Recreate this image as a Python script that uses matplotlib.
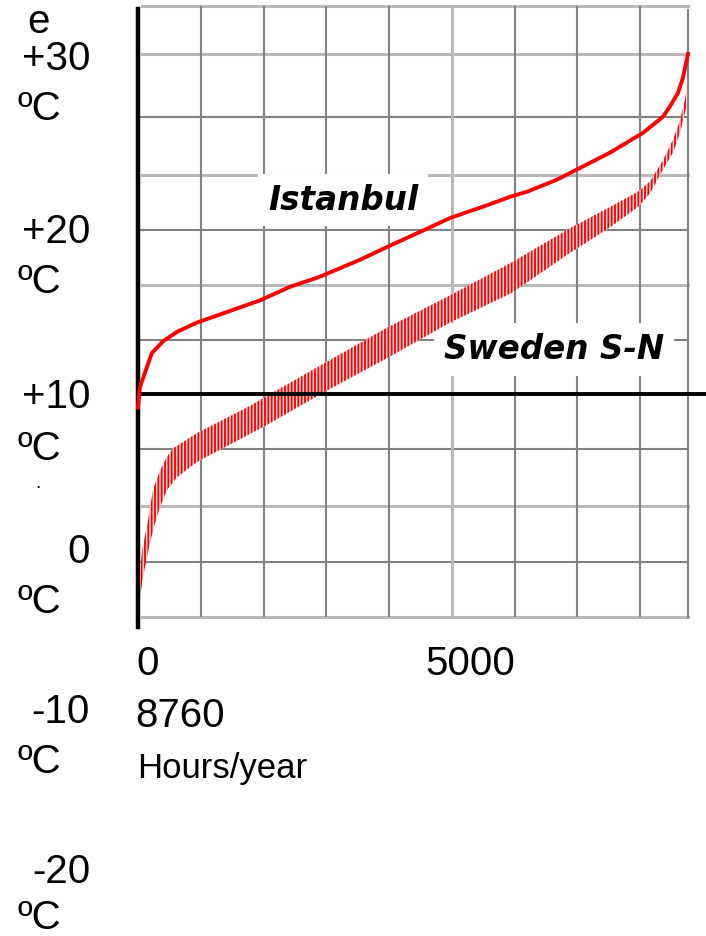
import numpy as np
import matplotlib
matplotlib.use("Agg")
import matplotlib.pyplot as plt

# Istanbul duration curve (hours/year, deg C)
ist_hours = [0, 30, 220, 400, 620, 940, 1940, 2420, 2900, 3540, 3970, 4650,
             4970, 5560, 5930, 6200, 6670, 6990, 7520, 8040, 8360, 8470, 8600, 8680, 8760]
ist_temp = [9.2, 10.4, 12.4, 13.1, 13.65, 14.2, 15.5, 16.3, 16.9, 17.9, 18.65, 19.8,
            20.35, 21.1, 21.6, 21.9, 22.6, 23.2, 24.2, 25.35, 26.3, 26.9, 27.7, 28.6, 30.0]

# Sweden S-N band: upper (south) and lower (north) edges
swe_up_hours = [0, 64, 143, 239, 350, 462, 557, 940, 1258, 1784, 1991, 3058,
                3966, 4969, 5957, 6881, 7518, 7964, 8155, 8362, 8521, 8633, 8712, 8760]
swe_up_temp = [-2.1, 0.8, 2.2, 4.35, 5.5, 6.3, 6.8, 7.7, 8.3, 9.3, 9.75, 12.0,
               13.9, 15.8, 17.75, 19.75, 21.0, 21.9, 22.5, 23.75, 24.95, 26.1, 27.3, 28.5]
swe_lo_hours = [0, 80, 191, 271, 350, 462, 621, 940, 1258, 1784, 1991, 3058,
                3966, 4969, 5957, 6881, 7518, 7964, 8155, 8362, 8521, 8633, 8712, 8760]
swe_lo_temp = [-2.8, -0.75, 1.25, 2.4, 3.35, 4.35, 5.1, 6.0, 6.62, 7.65, 8.05, 10.3,
               12.1, 14.2, 15.95, 18.3, 19.8, 21.0, 21.8, 23.2, 24.2, 25.35, 26.55, 27.3]

# left-hand temperature labels and bottom hour labels
temp_labels = ["+30", "+20", "+10", "0", "-10", "-20"]
hour_labels = ["0", "5000", "8760"]

W, H = 706, 936
plt.rcParams['hatch.linewidth'] = 1.35
fig = plt.figure(figsize=(W / 100, H / 100), dpi=100)


def fp(x, y):
    return x / W, 1 - y / H


# axes box in pixels: x 138..688, y 6..617
ax = fig.add_axes([138 / W, 1 - 617 / H, 550 / W, 611 / H])
ax.set_xlim(0, 8760)
ax.set_ylim(-3.12, 32.82)
ax.axis('off')

light = dict(color='#b9b9b9', lw=2.2, zorder=1)
dark = dict(color='#828282', lw=1.5, zorder=1)

# horizontal grid
for lev in [32.82, 30.0, 22.9, 16.4, 3.4, -3.12]:
    ax.axhline(lev, xmin=0.008, xmax=1.0, clip_on=False, **light)
for lev in [26.3, 19.65, 13.2, 6.75, 0.1]:
    ax.axhline(lev, **dark)
# vertical grid
for h in range(1000, 9000, 1000):
    ax.axvline(h, **(light if h == 5000 else dark))
ax.plot([8760, 8760], [-3.12, 32.6], clip_on=False, **dark)

# Sweden band, vertical hatching (drawn above the label boxes)
bx = np.concatenate([swe_up_hours, swe_lo_hours[::-1]])
by = np.concatenate([swe_up_temp, swe_lo_temp[::-1]])
ax.fill(bx, by, facecolor='#ffe4e4', edgecolor='red', hatch='|||||',
        linewidth=0, zorder=6)

# black axes
ax.plot([0, 0], [-3.7, 32.65], color='black', lw=3.2, clip_on=False, zorder=7)
ax.plot([0, 9050], [10, 10], color='black', lw=2.8, clip_on=False, zorder=7)

# Istanbul
ax.plot(ist_hours, ist_temp, color='red', lw=2.8, zorder=8, clip_on=False)

lab_font = dict(family='DejaVu Sans', fontweight='bold', fontstyle='italic',
                fontsize=23.5, color='black')
ax.text(3265, 21.4, "Istanbul", ha='center', va='center', zorder=5,
        bbox=dict(boxstyle='square,pad=0.3', fc='white', ec='none'), **lab_font)
ax.text(6626, 12.6, "Sweden S-N", ha='center', va='center', zorder=5,
        bbox=dict(boxstyle='square,pad=0.3', fc='white', ec='none'), **lab_font)

num_font = dict(family='Liberation Sans', fontsize=29, color='black')
# temperature labels: (text baseline y, unit baseline y)
temp_base = [70, 243, 408, 563, 723, 883]
unit_base = [120, 293, 460, 613, 773, 929]
for lab, yb, yu in zip(temp_labels, temp_base, unit_base):
    fig.text(*fp(90, yb), lab, ha='right', va='baseline', **num_font)
    fig.text(*fp(18, yu), "\u00baC", ha='left', va='baseline', **num_font)
fig.text(*fp(38, 33), "e", ha='center', va='baseline', **num_font)
fig.text(*fp(38, 488), ".", ha='center', va='baseline',
         family='Liberation Sans', fontsize=14)

fig.text(*fp(136, 675), hour_labels[0], ha='left', va='baseline', **num_font)
fig.text(*fp(425, 675), hour_labels[1], ha='left', va='baseline', **num_font)
fig.text(*fp(135, 727), hour_labels[2], ha='left', va='baseline', **num_font)
fig.text(*fp(137, 778), "Hours/year", ha='left', va='baseline',
         family='Liberation Sans', fontsize=25, color='black')

fig.savefig("out.png", dpi=100)
